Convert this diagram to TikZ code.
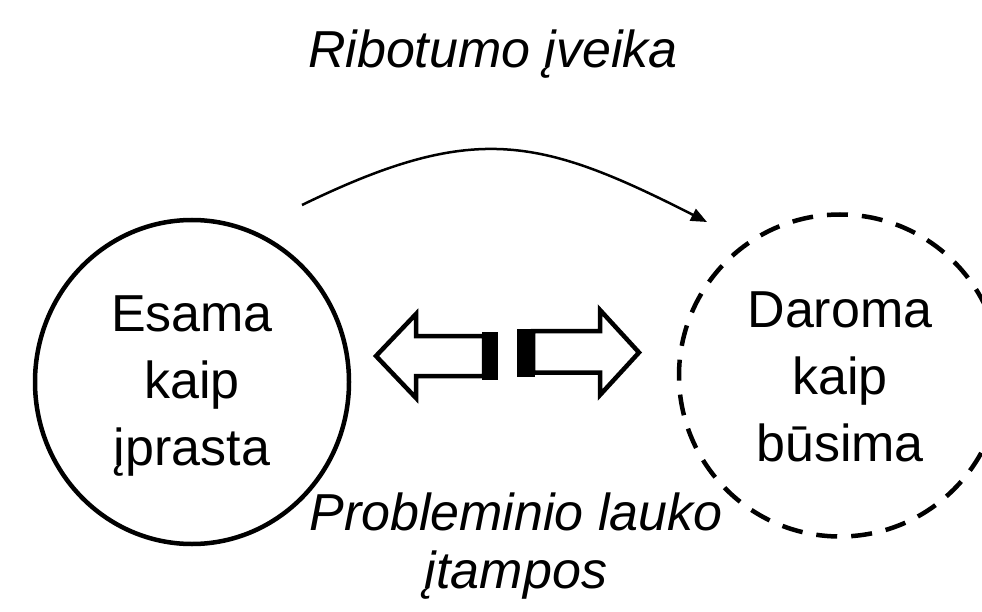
\documentclass[tikz,border=0pt]{standalone}
\usepackage{fontspec}
\setmainfont{Liberation Sans}
\usetikzlibrary{arrows.meta,shapes.geometric}
\begin{document}
\begin{tikzpicture}[x=1pt,y=-1pt,
  ringsolid/.style={draw, ellipse, line width=4.5pt, minimum width=314pt, minimum height=324pt, inner sep=0pt},
  ringdashed/.style={draw, circle, line width=4.5pt, minimum size=322pt, inner sep=0pt, dash pattern=on 21pt off 14pt},
  ringtext/.style={align=center, inner sep=0pt, font=\fontsize{52}{67}\selectfont},
  captext/.style={align=center, inner sep=0pt, font=\fontsize{52}{58}\selectfont\itshape},
  blockarrow/.style={draw, fill=white, line width=4.5pt, miter limit=10},
  arrowbar/.style={fill=black},
  curvearrow/.style={line width=2.5pt, -{Triangle[length=16pt,width=13pt]}}
]
\useasboundingbox (0,0) rectangle (982,612);
\clip (0,0) rectangle (982,612);

% circles
\node[ringsolid] (esama) at (192,382) {};
\node[ringdashed] (daroma) at (840,375.5) {};

% circle texts
\node[ringtext] (esamatxt) at (192,386) {Esama\\kaip\\įprasta};
\node[ringtext] (daromatxt) at (840,377) {Daroma\\kaip\\būsima};

% captions
\node[captext, anchor=base] (title) at (493,68) {Ribotumo įveika};
\node[captext] (tension) at (516,546) {Probleminio lauko\\įtampos};

% curved arrow
\coordinate (arcstart) at (302,205);
\coordinate (arcend) at (707,222);
\draw[curvearrow] (arcstart) .. controls (473,122) and (538,136) .. (arcend);

% left block arrow
\draw[blockarrow] (376,356) -- (416,314) -- (416,336) -- (484,336) -- (484,376) -- (416,376) -- (416,398) -- cycle;
\fill[arrowbar] (482,332) rectangle (498,380);

% right block arrow
\draw[blockarrow] (533,331) -- (600,331) -- (600,310) -- (639,352.5) -- (600,395) -- (600,372.5) -- (533,372.5) -- cycle;
\fill[arrowbar] (517,328.5) rectangle (535,376.5);
\end{tikzpicture}
\end{document}
